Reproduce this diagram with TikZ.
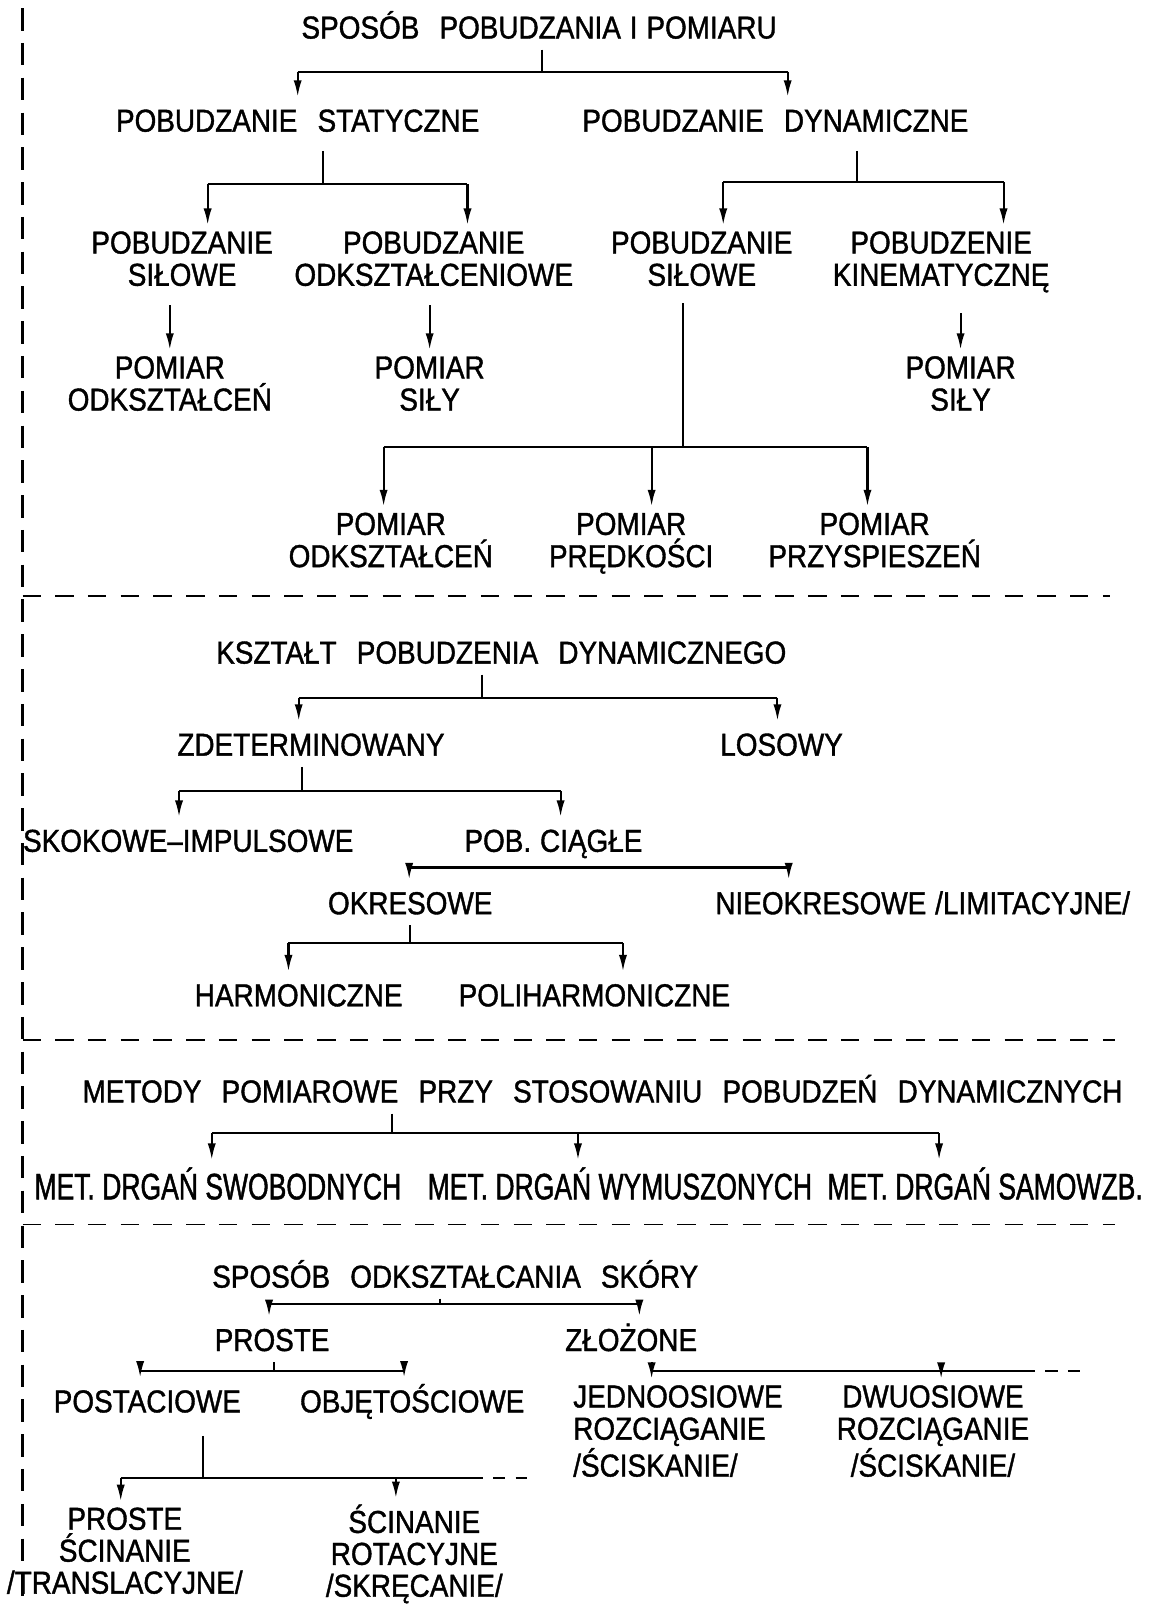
\documentclass[tikz,border=0pt]{standalone}
\usepackage{fontspec}
\setmainfont{Liberation Sans}[FakeStretch=0.88,WordSpace=2.6,FakeBold=1.2]
\newfontfamily\condfont{Liberation Sans}[FakeStretch=0.72,FakeBold=1.2]
\newcommand{\nsp}{\hspace{0.28em}}
\newcommand{\phx}{\vphantom{ŚĘ}}
\usetikzlibrary{arrows.meta,calc}
\begin{document}
\begin{tikzpicture}[x=0.5pt,y=-0.5pt,
  lbl/.style={font=\fontsize{15.5}{15.75}\selectfont, align=center, inner sep=2pt,
              execute at begin node=\phx, execute at end node=\phx},
  lbl3/.style={lbl, font=\fontsize{15.5}{15.6}\selectfont},
  met/.style={font=\condfont\fontsize{18}{18}\selectfont, inner sep=2pt,
              execute at begin node=\phx, execute at end node=\phx},
  ln/.style={line width=1pt},
  arr/.style={line width=1pt, -{Latex[length=8pt,width=4pt]}, shorten >=1pt},
  sep/.style={line width=0.9pt, dash pattern=on 9pt off 7pt},
  sepshort/.style={line width=0.9pt, dash pattern=on 6pt off 5pt},
  vsep/.style={line width=1pt, dash pattern=on 11pt off 6pt}]
\path[use as bounding box, fill=white] (0,0) rectangle (1130,1568);

% ---------- frame ----------
\coordinate (v0) at (22,8);
\coordinate (v1) at (22,1562);
\draw[vsep] (v0) -- (v1);
\coordinate (s1a) at (22,583);  \coordinate (s1b) at (1085,583);
\coordinate (s2a) at (22,1017); \coordinate (s2b) at (1090,1017);
\coordinate (s3a) at (22,1197); \coordinate (s3b) at (1090,1197);
\draw[sep] (s1a) -- (s1b);
\draw[sep] (s2a) -- (s2b);
\draw[sep] (s3a) -- (s3b);

% ---------- section 1 ----------
\node[lbl] (t1) at (527,27) {SPOSÓB POBUDZANIA\nsp I\nsp POMIARU};
\node[lbl] (ns) at (291,118) {POBUDZANIE STATYCZNE};
\node[lbl] (nd) at (758,118) {POBUDZANIE DYNAMICZNE};
\node[lbl] (ns1) at (178,256) {POBUDZANIE\\SIŁOWE};
\node[lbl] (nod) at (424,256) {POBUDZANIE\\ODKSZTAŁCENIOWE};
\node[lbl] (ns2) at (686,256) {POBUDZANIE\\SIŁOWE};
\node[lbl] (nk) at (920,256) {POBUDZENIE\\KINEMATYCZNĘ};
\node[lbl] (pm1) at (166,378) {POMIAR\\ODKSZTAŁCEŃ};
\node[lbl] (pm2) at (420,378) {POMIAR\\SIŁY};
\node[lbl] (pm3) at (939,378) {POMIAR\\SIŁY};
\node[lbl] (pm4) at (382,531) {POMIAR\\ODKSZTAŁCEŃ};
\node[lbl] (pm5) at (617,531) {POMIAR\\PRĘDKOŚCI};
\node[lbl] (pm6) at (855,531) {POMIAR\\PRZYSPIESZEŃ};

\coordinate (a0) at (530,70); \coordinate (aL) at (291,70); \coordinate (aR) at (770,70);
\draw[ln] (t1.south -| a0) -- (a0);
\draw[ln] (aL) -- (aR);
\draw[arr] (aL) -- (aL |- ns.north);
\draw[arr] (aR) -- (aR |- nd.north);

\coordinate (b0) at (316,180); \coordinate (bL) at (203,180); \coordinate (bR) at (457,180);
\draw[ln, shorten <=4pt] (ns.south -| b0) -- (b0);
\draw[ln] (bL) -- (bR);
\draw[arr] (bL) -- (bL |- ns1.north);
\draw[arr] (bR) -- (bR |- nod.north);

\coordinate (c0) at (838,178); \coordinate (cL) at (707,178); \coordinate (cR) at (981,178);
\draw[ln, shorten <=4pt] (nd.south -| c0) -- (c0);
\draw[ln] (cL) -- (cR);
\draw[arr] (cL) -- (cL |- ns2.north);
\draw[arr] (cR) -- (cR |- nk.north);

\draw[arr, shorten <=4pt] (pm1.north |- ns1.south) -- (pm1.north);
\draw[arr, shorten <=4pt] (pm2.north |- nod.south) -- (pm2.north);
\draw[arr, shorten <=8pt] (pm3.north |- nk.south) -- (pm3.north);

\coordinate (d0) at (668,437); \coordinate (dL) at (375,437);
\coordinate (dM) at (637,437); \coordinate (dR) at (848,437);
\draw[ln, shorten <=3pt] (ns2.south -| d0) -- (d0);
\draw[ln] (dL) -- (dR);
\draw[arr] (dL) -- (dL |- pm4.north);
\draw[arr] (dM) -- (dM |- pm5.north);
\draw[arr] (dR) -- (dR |- pm6.north);

% ---------- section 2 ----------
\node[lbl] (k0) at (490,638) {KSZTAŁT POBUDZENIA DYNAMICZNEGO};
\node[lbl] (kz) at (304,728) {ZDETERMINOWANY};
\node[lbl] (kl) at (764,728) {LOSOWY};
\node[lbl] (ksk) at (184,822) {SKOKOWE–IMPULSOWE};
\node[lbl] (kp) at (541,822) {POB.\nsp CIĄGŁE};
\node[lbl] (ko) at (401,883) {OKRESOWE};
\node[lbl] (kn) at (902,883) {NIEOKRESOWE\nsp/LIMITACYJNE/};
\node[lbl] (kh) at (292,973) {HARMONICZNE};
\node[lbl] (kph) at (581,973) {POLIHARMONICZNE};

\coordinate (e0) at (471,682); \coordinate (eL) at (292,682); \coordinate (eR) at (760,682);
\draw[ln] (k0.south -| e0) -- (e0);
\draw[ln] (eL) -- (eR);
\draw[arr] (eL) -- (eL |- kz.north);
\draw[arr] (eR) -- (eR |- kl.north);

\coordinate (f0) at (295,773); \coordinate (fL) at (175,773); \coordinate (fR) at (548,773);
\draw[ln] (kz.south -| f0) -- (f0);
\draw[ln] (fL) -- (fR);
\draw[arr] (fL) -- (fL |- ksk.north);
\draw[arr] (fR) -- (fR |- kp.north);

\coordinate (gL) at (400,848); \coordinate (gR) at (771,848);
\draw[ln] (gL) -- (gR);
\draw[arr] (gL) -- (gL |- ko.north);
\draw[arr] (gR) -- (gR |- kn.north);

\coordinate (h0) at (401,922); \coordinate (hL) at (282,922); \coordinate (hR) at (609,922);
\draw[ln] (ko.south -| h0) -- (h0);
\draw[ln] (hL) -- (hR);
\draw[arr] (hL) -- (hL |- kh.north);
\draw[arr] (hR) -- (hR |- kph.north);

% ---------- section 3 ----------
\node[lbl] (m0) at (589,1067) {METODY POMIAROWE PRZY STOSOWANIU POBUDZEŃ DYNAMICZNYCH};
\node[met] (m1) at (213,1160) {MET. DRGAŃ SWOBODNYCH};
\node[met] (m2) at (606,1160) {MET. DRGAŃ WYMUSZONYCH};
\node[met] (m3) at (963,1160) {MET. DRGAŃ SAMOWZB.};

\coordinate (i0) at (383,1108); \coordinate (iL) at (207,1108);
\coordinate (iM) at (565,1108); \coordinate (iR) at (918,1108);
\draw[ln] (m0.south -| i0) -- (i0);
\draw[ln] (iL) -- (iR);
\draw[arr] (iL) -- (iL |- m1.north);
\draw[arr] (iM) -- (iM |- m2.north);
\draw[arr] (iR) -- (iR |- m3.north);

% ---------- section 4 ----------
\node[lbl] (p0) at (445,1248) {SPOSÓB ODKSZTAŁCANIA SKÓRY};
\node[lbl] (ppr) at (266,1310) {PROSTE};
\node[lbl] (pzl) at (617,1310) {ZŁOŻONE};
\node[lbl] (ppo) at (144,1370) {POSTACIOWE};
\node[lbl] (pob) at (403,1370) {OBJĘTOŚCIOWE};
\node[lbl, align=left, anchor=west] (pje) at (556,1402) {JEDNOOSIOWE\\ROZCIĄGANIE\\/ŚCISKANIE/};
\node[lbl] (pdw) at (912,1402) {DWUOSIOWE\\ROZCIĄGANIE\\/ŚCISKANIE/};
\node[lbl3] (pps) at (122,1519) {PROSTE\\ŚCINANIE\\/TRANSLACYJNE/};
\node[lbl3] (psr) at (405,1519) {ŚCINANIE\\ROTACYJNE\\/SKRĘCANIE/};

\coordinate (j0) at (430,1275); \coordinate (jL) at (263,1275); \coordinate (jR) at (625,1275);
\draw[ln] (p0.south -| j0) -- (j0);
\draw[ln] (jL) -- (jR);
\draw[arr] (jL) -- (jL |- ppr.north);
\draw[arr] (jR) -- (jR |- pzl.north);

\coordinate (q0) at (268,1340); \coordinate (qL) at (137,1340); \coordinate (qR) at (395,1340);
\draw[ln] (ppr.south -| q0) -- (q0);
\draw[ln] (qL) -- (qR);
\draw[arr] (qL) -- (qL |- ppo.north);
\draw[arr] (qR) -- (qR |- pob.north);

\coordinate (l0) at (637,1340); \coordinate (lM) at (920,1340);
\coordinate (lR) at (1000,1340); \coordinate (lE) at (1062,1340);
\draw[arr] (pzl.south -| l0) -- (l0 |- pje.north);
\draw[ln] (l0) -- (lR);
\draw[sepshort] (lR) -- (lE);
\draw[arr] (lM) -- (lM |- pdw.north);

\coordinate (r0) at (198,1445); \coordinate (rL) at (118,1445); \coordinate (rM) at (387,1445);
\coordinate (rR) at (460,1445); \coordinate (rE) at (515,1445);
\draw[ln, shorten <=6pt] (ppo.south -| r0) -- (r0);
\draw[ln] (rL) -- (rR);
\draw[sepshort] (rR) -- (rE);
\draw[arr] (rL) -- (rL |- pps.north);
\draw[arr] (rM) -- (rM |- psr.north);
\end{tikzpicture}
\end{document}
